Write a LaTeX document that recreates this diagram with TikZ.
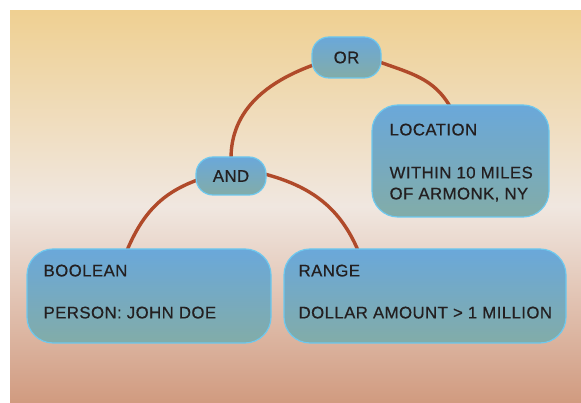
\documentclass[tikz,border=0pt]{standalone}
\usepackage{fontspec}
\setmainfont{Liberation Sans}
\newfontfamily\labfont[LetterSpace=2.5,FakeBold=0.5]{Liberation Sans}
\definecolor{bgtop}{RGB}{239,208,146}
\definecolor{bgmid}{RGB}{240,231,224}
\definecolor{bgbot}{RGB}{209,155,128}
\definecolor{boxtop}{RGB}{106,168,218}
\definecolor{boxbot}{RGB}{130,172,168}
\definecolor{boxline}{RGB}{110,200,238}
\definecolor{wire}{RGB}{176,74,42}
\definecolor{ink}{RGB}{35,31,32}
\pgfdeclarelayer{back}
\pgfdeclarelayer{bg}
\pgfsetlayers{back,bg,main}
\begin{document}
\begin{tikzpicture}[x=1pt,y=1pt,
  box/.style={draw=boxline, line width=1.2pt, top color=boxtop, bottom color=boxbot,
    inner sep=0pt},
  pill/.style={box, rounded corners=17pt},
  card/.style={box, rounded corners=26pt},
  txt/.style={anchor=base west, inner sep=0pt, text=ink, font=\labfont\fontsize{16.8}{21}\selectfont},
  ctxt/.style={text=ink, font=\labfont\fontsize{16.8}{21}\selectfont},
  wirestyle/.style={draw=wire, line width=3.4pt}]
\useasboundingbox (0,0) rectangle (581,402);
\begin{pgfonlayer}{back}
\shade[top color=bgtop, bottom color=bgbot, middle color=bgmid] (10,0) rectangle (581,391);
\end{pgfonlayer}

\node[pill, minimum width=69pt, minimum height=41pt] (or) at (346.5,344.5) {};
\node[ctxt] (ortext) at (or) {OR};
\node[pill, minimum width=70pt, minimum height=38pt] (and) at (231,226) {};
\node[ctxt] (andtext) at (and) {AND};
\node[card, minimum width=177pt, minimum height=112pt] (loc) at (460.5,241) {};
\node[card, minimum width=244pt, minimum height=94pt] (bool) at (149,106) {};
\node[card, minimum width=282pt, minimum height=94pt] (range) at (425,106) {};

\node[txt] (t1) at ([xshift=17pt,yshift=-28pt]bool.north west) {BOOLEAN};
\node[txt] (t2) at ([xshift=17pt,yshift=-70pt]bool.north west) {PERSON: JOHN DOE};
\node[txt] (t3) at ([xshift=15pt,yshift=-28pt]range.north west) {RANGE};
\node[txt] (t4) at ([xshift=15pt,yshift=-70pt]range.north west) {DOLLAR AMOUNT > 1 MILLION};
\node[txt] (t5) at ([xshift=18pt,yshift=-31pt]loc.north west) {LOCATION};
\node[txt] (t6) at ([xshift=18pt,yshift=-74pt]loc.north west) {WITHIN 10 MILES};
\node[txt] (t7) at ([xshift=18pt,yshift=-95pt]loc.north west) {OF ARMONK, NY};

\begin{pgfonlayer}{bg}
\draw[wirestyle] ([yshift=-2pt]and.north) to[out=90,in=200] ([xshift=2pt,yshift=-7.5pt]or.west);
\draw[wirestyle] ([xshift=-2pt,yshift=-4.5pt]or.east) to[out=-20,in=120] ([xshift=-10.5pt,yshift=-2pt]loc.north);
\draw[wirestyle] ([xshift=2pt,yshift=-4pt]and.west) to[out=200,in=67] ([xshift=-22pt,yshift=-2pt]bool.north);
\draw[wirestyle] ([xshift=-2pt,yshift=2pt]and.east) to[out=-15,in=113] ([xshift=-67pt,yshift=-2pt]range.north);
\end{pgfonlayer}
\end{tikzpicture}
\end{document}
